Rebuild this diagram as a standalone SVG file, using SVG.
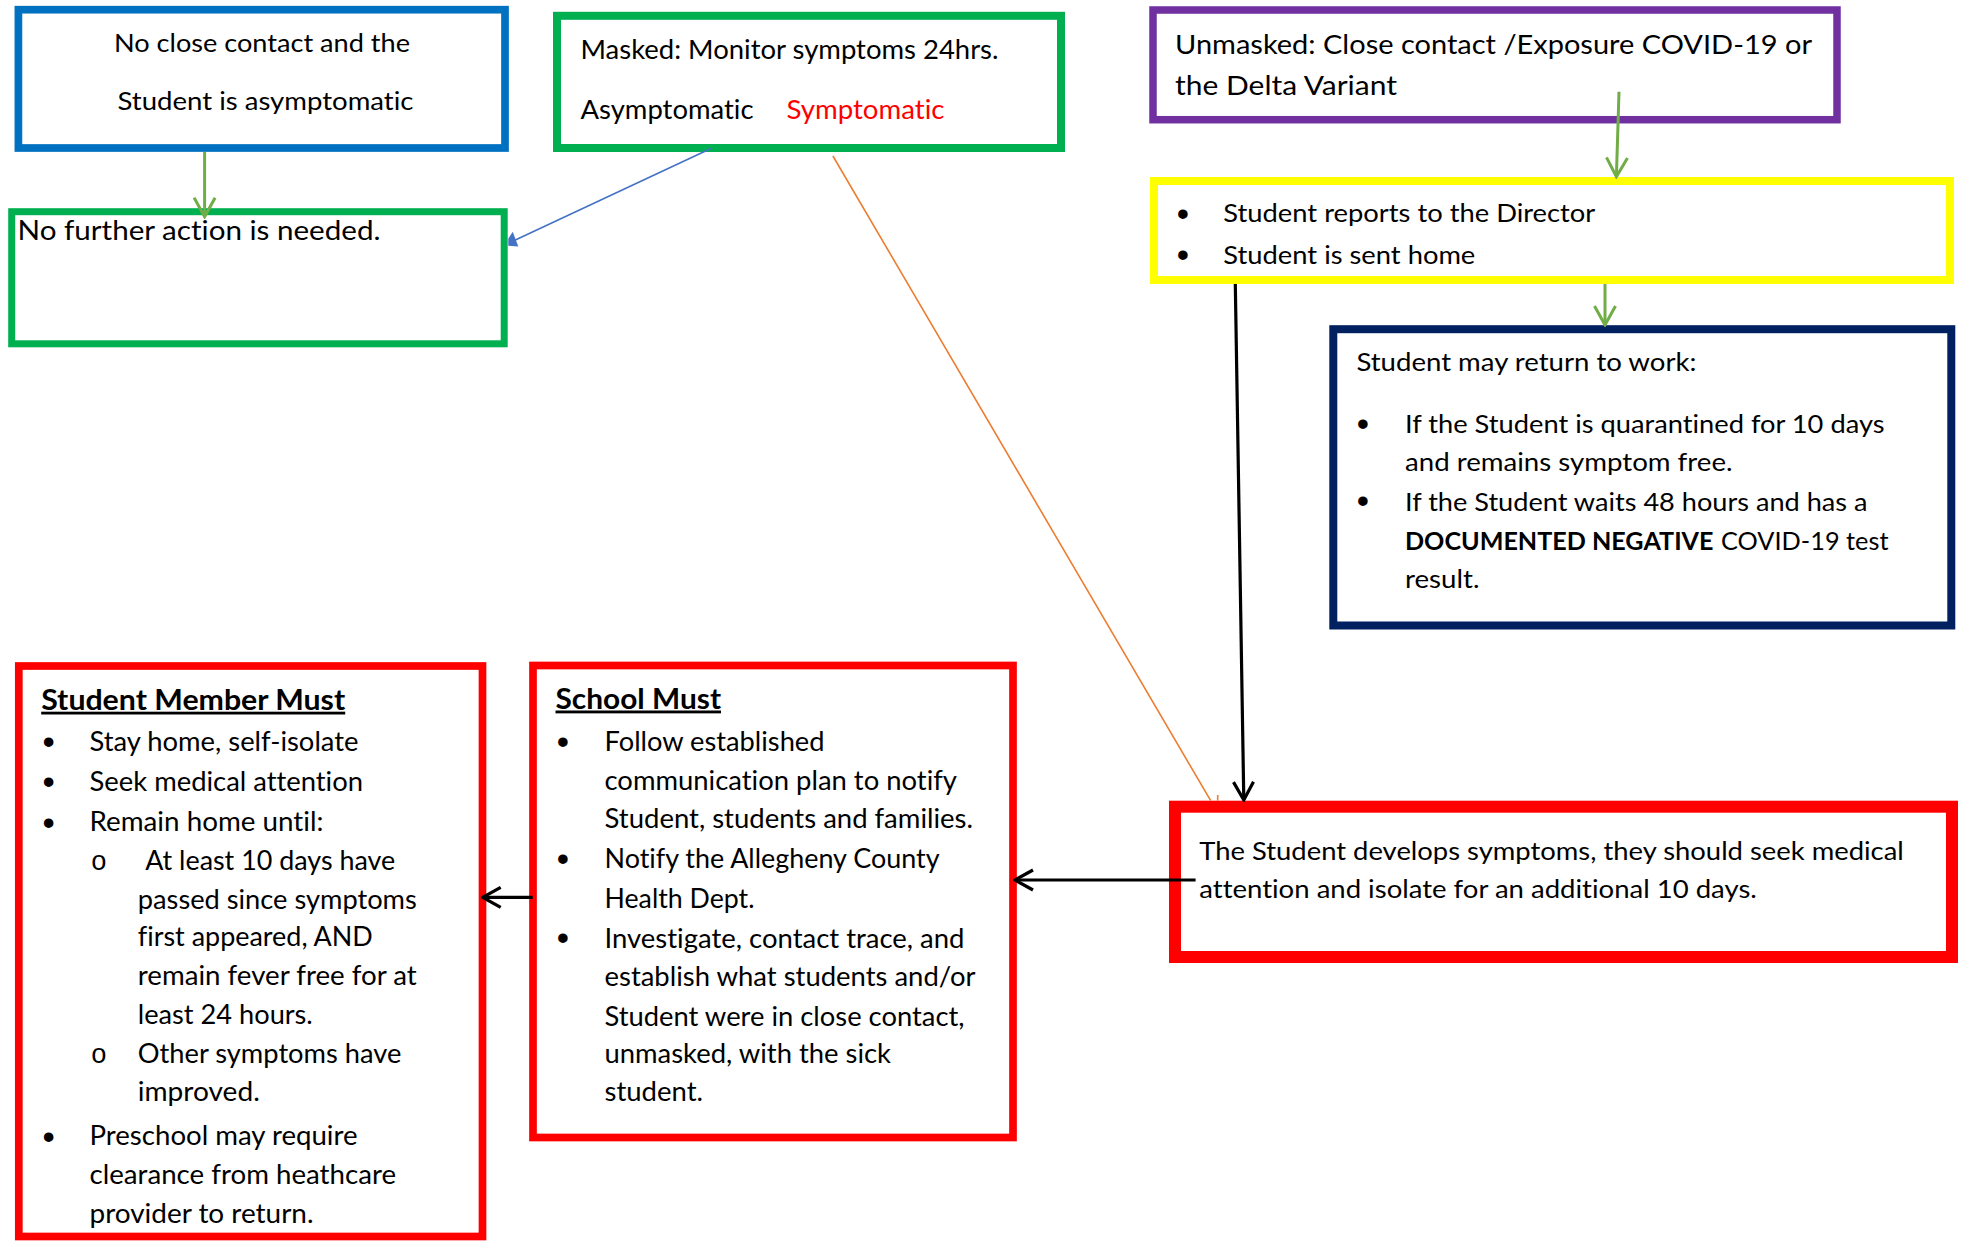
<svg xmlns="http://www.w3.org/2000/svg" width="1961" height="1242" viewBox="0 0 1961 1242">
<style>
.box{fill:#fff}
.t{font-family:Lato,"Liberation Sans",sans-serif;fill:#000;font-variant-ligatures:none}
.b{font-weight:bold}
.u{text-decoration:underline}
.bul{font-family:"Liberation Sans",sans-serif;font-size:35px;text-anchor:middle;fill:#000}
.sub{font-family:"Liberation Mono",monospace;font-size:27px;text-anchor:middle;fill:#000}
.c{fill:none;stroke-linecap:butt}
.green{stroke:#70AD47;stroke-width:3}
.black{stroke:#000;stroke-width:3.2}
</style>
<defs>
<marker id="ag" viewBox="0 0 22 24" refX="20" refY="12" markerWidth="22" markerHeight="24" markerUnits="userSpaceOnUse" orient="auto">
<path d="M1,1.5 L20,12 L1,22.5" fill="none" stroke="#70AD47" stroke-width="3"/>
</marker>
<marker id="ak" viewBox="0 0 22 24" refX="20" refY="12" markerWidth="22" markerHeight="24" markerUnits="userSpaceOnUse" orient="auto">
<path d="M2,2 L20,12 L2,22" fill="none" stroke="#000" stroke-width="3.2"/>
</marker>
</defs>
<rect width="1961" height="1242" fill="#fff"/>

<g id="node-no-contact">
<rect class="box" x="18.4" y="9.7" width="486.6" height="138.3" stroke="#0070C0" stroke-width="7.7"/>
<text class="t" font-size="25.5" x="114" y="51.7" textLength="296" lengthAdjust="spacingAndGlyphs">No close contact and the</text>
<text class="t" font-size="25.5" x="117.5" y="110" textLength="296" lengthAdjust="spacingAndGlyphs">Student is asymptomatic</text>
</g>

<g id="node-no-further">
<rect class="box" x="11.7" y="211.7" width="492.5" height="132.1" stroke="#00B050" stroke-width="7"/>
<text class="t" font-size="26" x="17.5" y="240.3" textLength="363" lengthAdjust="spacingAndGlyphs">No further action is needed.</text>
</g>

<g id="node-masked">
<rect class="box" x="557" y="15.8" width="504" height="132.2" stroke="#00B050" stroke-width="8"/>
<text class="t" font-size="26.5" x="580.5" y="58.8" textLength="418" lengthAdjust="spacingAndGlyphs">Masked: Monitor symptoms 24hrs.</text>
<text class="t" font-size="26.5" x="580.5" y="118.8" textLength="173" lengthAdjust="spacingAndGlyphs">Asymptomatic</text>
<text class="t" font-size="26.5" x="786.5" y="118.8" textLength="158" lengthAdjust="spacingAndGlyphs" style="fill:#FF0000">Symptomatic</text>
</g>

<g id="node-unmasked">
<rect class="box" x="1153" y="10" width="684" height="109.7" stroke="#7030A0" stroke-width="7.5"/>
<text class="t" font-size="26.5" x="1175" y="53.5" textLength="637" lengthAdjust="spacingAndGlyphs">Unmasked: Close contact /Exposure COVID-19 or</text>
<text class="t" font-size="26.5" x="1175" y="95.2" textLength="222" lengthAdjust="spacingAndGlyphs">the Delta Variant</text>
</g>

<g id="node-reports">
<rect class="box" x="1154" y="181" width="796" height="99" stroke="#FFFF00" stroke-width="8"/>
<text class="bul" x="1183" y="225.5">•</text>
<text class="t" font-size="24.7" x="1223.3" y="222.2" textLength="372" lengthAdjust="spacingAndGlyphs">Student reports to the Director</text>
<text class="bul" x="1183" y="266.7">•</text>
<text class="t" font-size="24.7" x="1223.3" y="263.8" textLength="252" lengthAdjust="spacingAndGlyphs">Student is sent home</text>
</g>

<g id="node-return">
<rect class="box" x="1333.3" y="329.2" width="618" height="296.3" stroke="#002060" stroke-width="8"/>
<text class="t" font-size="24.5" x="1356.4" y="370.7" textLength="340" lengthAdjust="spacingAndGlyphs">Student may return to work:</text>
<text class="bul" x="1363" y="435.7">•</text>
<text class="t" font-size="24.5" x="1405" y="432.7" textLength="479.5" lengthAdjust="spacingAndGlyphs">If the Student is quarantined for 10 days</text>
<text class="t" font-size="24.5" x="1405" y="470.7" textLength="327.5" lengthAdjust="spacingAndGlyphs">and remains symptom free.</text>
<text class="bul" x="1363" y="513.2">•</text>
<text class="t" font-size="24.5" x="1405" y="510.7" textLength="462.5" lengthAdjust="spacingAndGlyphs">If the Student waits 48 hours and has a</text>
<text class="t b" font-size="24.5" x="1405" y="550" textLength="308.5" lengthAdjust="spacingAndGlyphs">DOCUMENTED NEGATIVE</text>
<text class="t" font-size="24.5" x="1721" y="550" textLength="167.5" lengthAdjust="spacingAndGlyphs">COVID-19 test</text>
<text class="t" font-size="24.5" x="1405" y="588.3" textLength="74.5" lengthAdjust="spacingAndGlyphs">result.</text>
</g>

<g id="node-develops">
<rect class="box" x="1175" y="806.7" width="777" height="150.3" stroke="#FF0000" stroke-width="12"/>
<text class="t" font-size="25.5" x="1199.3" y="860" textLength="704.5" lengthAdjust="spacingAndGlyphs">The Student develops symptoms, they should seek medical</text>
<text class="t" font-size="25.5" x="1199.3" y="898.3" textLength="557.5" lengthAdjust="spacingAndGlyphs">attention and isolate for an additional 10 days.</text>
</g>

<g id="node-student-must">
<rect class="box" x="18.8" y="666" width="463.7" height="570.5" stroke="#FF0000" stroke-width="7.7"/>
<text class="t b u" font-size="28" x="41.2" y="709.7" textLength="304" lengthAdjust="spacingAndGlyphs">Student Member Must</text>
<text class="bul" x="48.7" y="753.7">•</text>
<text class="t" font-size="26.4" x="89.5" y="751.2" textLength="269" lengthAdjust="spacingAndGlyphs">Stay home, self-isolate</text>
<text class="bul" x="48.7" y="794">•</text>
<text class="t" font-size="26.4" x="89.5" y="790.5" textLength="273.5" lengthAdjust="spacingAndGlyphs">Seek medical attention</text>
<text class="bul" x="48.7" y="835">•</text>
<text class="t" font-size="26.4" x="89.5" y="831.2" textLength="234" lengthAdjust="spacingAndGlyphs">Remain home until:</text>
<text class="sub" x="98.8" y="870">o</text>
<text class="t" font-size="26.4" x="145.2" y="869.7" textLength="250" lengthAdjust="spacingAndGlyphs">At least 10 days have</text>
<text class="t" font-size="26.4" x="137.8" y="908.6" textLength="279" lengthAdjust="spacingAndGlyphs">passed since symptoms</text>
<text class="t" font-size="26.4" x="137.8" y="946.4" textLength="235" lengthAdjust="spacingAndGlyphs">first appeared, AND</text>
<text class="t" font-size="26.4" x="137.8" y="985.3" textLength="279" lengthAdjust="spacingAndGlyphs">remain fever free for at</text>
<text class="t" font-size="26.4" x="137.8" y="1023.8" textLength="175" lengthAdjust="spacingAndGlyphs">least 24 hours.</text>
<text class="sub" x="98.8" y="1063">o</text>
<text class="t" font-size="26.4" x="137.8" y="1063.4" textLength="263.5" lengthAdjust="spacingAndGlyphs">Other symptoms have</text>
<text class="t" font-size="26.4" x="137.8" y="1101.2" textLength="122" lengthAdjust="spacingAndGlyphs">improved.</text>
<text class="bul" x="48.7" y="1148.6">•</text>
<text class="t" font-size="26.4" x="89.5" y="1144.6" textLength="268" lengthAdjust="spacingAndGlyphs">Preschool may require</text>
<text class="t" font-size="26.4" x="89.5" y="1183.8" textLength="306.5" lengthAdjust="spacingAndGlyphs">clearance from heathcare</text>
<text class="t" font-size="26.4" x="89.5" y="1223" textLength="224" lengthAdjust="spacingAndGlyphs">provider to return.</text>
</g>

<g id="node-school-must">
<rect class="box" x="533" y="665.5" width="480" height="472" stroke="#FF0000" stroke-width="7.7"/>
<text class="t b u" font-size="28.5" x="555.5" y="708.5" textLength="165.5" lengthAdjust="spacingAndGlyphs">School Must</text>
<text class="bul" x="563" y="753.7">•</text>
<text class="t" font-size="26.4" x="604.5" y="751.2" textLength="220" lengthAdjust="spacingAndGlyphs">Follow established</text>
<text class="t" font-size="26.4" x="604.5" y="789.7" textLength="352.5" lengthAdjust="spacingAndGlyphs">communication plan to notify</text>
<text class="t" font-size="26.4" x="604.5" y="827.5" textLength="368.5" lengthAdjust="spacingAndGlyphs">Student, students and families.</text>
<text class="bul" x="563" y="870.7">•</text>
<text class="t" font-size="26.4" x="604.5" y="868.2" textLength="335" lengthAdjust="spacingAndGlyphs">Notify the Allegheny County</text>
<text class="t" font-size="26.4" x="604.5" y="907.5" textLength="150" lengthAdjust="spacingAndGlyphs">Health Dept.</text>
<text class="bul" x="563" y="950">•</text>
<text class="t" font-size="26.4" x="604.5" y="947.5" textLength="360" lengthAdjust="spacingAndGlyphs">Investigate, contact trace, and</text>
<text class="t" font-size="26.4" x="604.5" y="986" textLength="371" lengthAdjust="spacingAndGlyphs">establish what students and/or</text>
<text class="t" font-size="26.4" x="604.5" y="1025.7" textLength="360" lengthAdjust="spacingAndGlyphs">Student were in close contact,</text>
<text class="t" font-size="26.4" x="604.5" y="1063.4" textLength="286.5" lengthAdjust="spacingAndGlyphs">unmasked, with the sick</text>
<text class="t" font-size="26.4" x="604.5" y="1101.2" textLength="98.5" lengthAdjust="spacingAndGlyphs">student.</text>
</g>

<g id="connectors">
<line class="c green" x1="204.6" y1="152" x2="204.6" y2="216.7" marker-end="url(#ag)"/>
<line class="c" x1="711.4" y1="148.3" x2="510" y2="242.5" stroke="#4472C4" stroke-width="1.6"/>
<polygon points="508.3,238.7 512.7,231.7 518.3,246.5 508.3,245.8" fill="#4472C4"/>
<path class="c" d="M832.9,156 L1210.7,800.7 M1217.7,795 L1217.7,800.7" stroke="#ED7D31" stroke-width="1.6"/>
<line class="c green" x1="1619" y1="91.7" x2="1616.4" y2="176.7" marker-end="url(#ag)"/>
<line class="c green" x1="1605" y1="284" x2="1605" y2="325" marker-end="url(#ag)"/>
<line class="c black" x1="1235.3" y1="284" x2="1243.8" y2="800" marker-end="url(#ak)"/>
<line class="c black" x1="1195.6" y1="880" x2="1015" y2="880" marker-end="url(#ak)"/>
<line class="c black" x1="532.7" y1="897.3" x2="482.7" y2="897.3" marker-end="url(#ak)"/>
</g>
</svg>
